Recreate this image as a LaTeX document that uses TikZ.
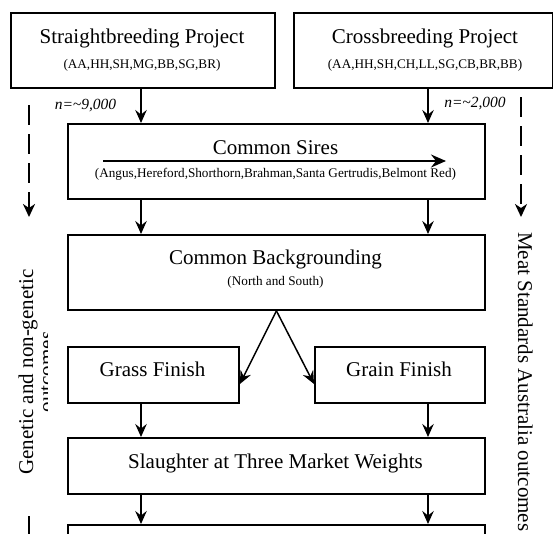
\documentclass[tikz,border=0pt]{standalone}
\usepackage{fontspec}
\setmainfont{Liberation Serif}
\usetikzlibrary{arrows.meta}
\begin{document}
\begin{tikzpicture}[x=1pt,y=-1pt,
  box/.style={draw, line width=1.9pt, inner sep=0pt, anchor=north west},
  ttl/.style={anchor=base, inner sep=0pt, font=\fontsize{21}{24}\selectfont},
  sub/.style={anchor=base, inner sep=0pt, font=\fontsize{13.2}{15}\selectfont},
  nlab/.style={anchor=base, inner sep=0pt, font=\fontsize{15.5}{18}\selectfont\itshape},
  side/.style={inner sep=0pt, font=\fontsize{21}{24}\selectfont},
  arr/.style={line width=1.5pt, -{Stealth[length=13pt,width=11.5pt,inset=4.5pt]}},
  bigarr/.style={line width=1.5pt, -{Stealth[length=15pt,width=13pt,inset=5pt]}},
  dasharr/.style={line width=2.8pt, dash pattern=on 20pt off 9pt, -{Stealth[length=13pt,width=12pt,inset=4pt]}}
]
\clip (0,0) rectangle (553,533);
\fill[white] (0,0) rectangle (553,533);

% boxes
\node[box, minimum width=264pt, minimum height=75pt] (sb) at (10,12) {};
\node[box, minimum width=259pt, minimum height=75pt] (cb) at (293,12) {};
\node[box, minimum width=417pt, minimum height=75pt] (cs) at (67,123) {};
\node[box, minimum width=417pt, minimum height=75pt] (bg) at (67,234) {};
\node[box, minimum width=171pt, minimum height=56pt] (grass) at (67,346) {};
\node[box, minimum width=170pt, minimum height=56pt] (grain) at (314,346) {};
\node[box, minimum width=417pt, minimum height=56pt] (sl) at (67,437) {};
\node[box, minimum width=417pt, minimum height=40pt] (fin) at (67,524) {};

% texts
\node[ttl] (sbt) at (142,43) {Straightbreeding Project};
\node[sub] (sbs) at (142,68) {(AA,HH,SH,MG,BB,SG,BR)};
\node[ttl] (cbt) at (425,43) {Crossbreeding Project};
\node[sub] (cbs) at (425,68) {(AA,HH,SH,CH,LL,SG,CB,BR,BB)};
\node[ttl] (cst) at (275.5,154) {Common Sires};
\node[sub] (css) at (275.5,177.5) {(Angus,Hereford,Shorthorn,Brahman,Santa Gertrudis,Belmont Red)};
\node[ttl] (bgt) at (275.5,264) {Common Backgrounding};
\node[sub] (bgs) at (275.5,285.5) {(North and South)};
\node[ttl] (grasst) at (152.5,376) {Grass Finish};
\node[ttl] (graint) at (399,376) {Grain Finish};
\node[ttl] (slt) at (275.5,468) {Slaughter at Three Market Weights};

\node[nlab] (n1) at (85.5,109) {n=\textasciitilde9,000};
\node[nlab] (n2) at (475,107) {n=\textasciitilde2,000};

% connectors
\coordinate (L) at (141,0);
\coordinate (R) at (428,0);
\coordinate (vtip) at (0,384);
\draw[arr] (sb.south -| L) -- (cs.north -| L);
\draw[arr] (cb.south -| R) -- (cs.north -| R);
\draw[arr] (cs.south -| L) -- (bg.north -| L);
\draw[arr] (cs.south -| R) -- (bg.north -| R);
\draw[arr] (bg.south) -- (grass.east |- vtip);
\draw[arr] (bg.south) -- (grain.west |- vtip);
\draw[arr] (grass.south -| L) -- (sl.north -| L);
\draw[arr] (grain.south -| R) -- (sl.north -| R);
\draw[arr] (sl.south -| L) -- (fin.north -| L);
\draw[arr] (sl.south -| R) -- (fin.north -| R);

\coordinate (ia) at (103,161);
\coordinate (ib) at (446,161);
\draw[bigarr] (ia) -- (ib);

% dashed side arrows
\coordinate (dl1) at (29,105);
\coordinate (dl2) at (29,217);
\coordinate (dr1) at (521,97);
\coordinate (dr2) at (521,217);
\coordinate (dl3) at (29,516);
\coordinate (dl4) at (29,545);
\draw[dasharr] (dl1) -- (dl2);
\draw[dasharr] (dr1) -- (dr2);
\draw[line width=2.8pt] (dl3) -- (dl4);

% side texts
\begin{scope}
\clip (0,0) rectangle (47,533);
\node[side, anchor=base, rotate=90] (gen1) at (33,372) {Genetic and non-genetic};
\node[side, anchor=base, rotate=90] (gen2) at (53,372) {outcomes};
\end{scope}
\node[side, anchor=base west, rotate=-90] (msa) at (518,232) {Meat Standards Australia outcomes};
\end{tikzpicture}
\end{document}
